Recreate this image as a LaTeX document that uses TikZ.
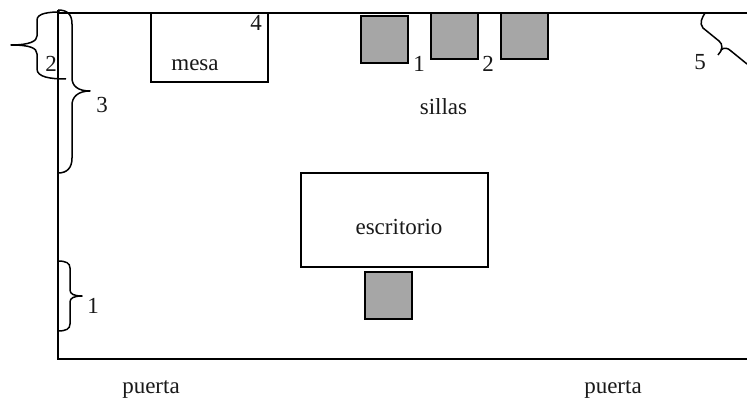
\documentclass[tikz,border=0pt]{standalone}
\usepackage{fontspec}
\setmainfont{Liberation Serif}
\tikzset{
  ln/.style={draw=black,line width=1.5pt},
  chair/.style={draw=black,line width=1.5pt,fill=black!35},
  furn/.style={draw=black,line width=1.5pt,fill=white},
  brace/.style={draw=black,line width=1.5pt,line join=round},
  lbl/.style={inner sep=0pt,font=\fontsize{23}{25}\selectfont,text=black!90}
}
\begin{document}
\begin{tikzpicture}[x=1pt,y=-1pt]
\useasboundingbox[fill=white] (0,0) rectangle (747,398);
\draw[ln] (747,13) -- (58,13);
\draw[ln] (58,10) -- (58,359) -- (747,359);
\draw[furn] (151,13) rectangle (268,82);
\draw[furn] (301,173) rectangle (488,267);
\draw[chair] (361,16) rectangle (408,63);
\draw[chair] (431,13) rectangle (478,59);
\draw[chair] (501,13) rectangle (548,59);
\draw[chair] (365,272) rectangle (412,319);
% brace 2
\draw[brace] (60,12) .. controls (50,12) and (37,13) .. (37,20) -- (37,36)
  .. controls (37,41) and (30,45) .. (11,45)
  .. controls (30,45) and (37,48) .. (37,54) -- (37,69)
  .. controls (37,77) and (50,79) .. (66,79);
% brace 3
\draw[brace] (58,10) .. controls (67,10) and (72,14) .. (72,24) -- (72,78)
  .. controls (72,86) and (78,91) .. (90,91)
  .. controls (78,91) and (72,97) .. (72,105) -- (72,158)
  .. controls (72,168) and (67,173) .. (58,173);
% brace 1
\draw[brace] (58,261) .. controls (66,261) and (70,263) .. (70,268) -- (70,290)
  .. controls (70,294) and (74,296) .. (82,296)
  .. controls (74,296) and (70,298) .. (70,302) -- (70,324)
  .. controls (70,329) and (66,331) .. (58,331);
% brace 5
\draw[brace] (705,13) .. controls (702,18) and (699,23) .. (703,28) -- (719,41)
  .. controls (723,44) and (723,50) .. (718,55);
\draw[brace] (721,50) .. controls (724,47) and (728,48) .. (731,51) -- (747,64);
\node[lbl] (four) at (256,23) {4};
\node[lbl] (mesa) at (195,65) {mesa};
\node[lbl] (c1) at (419,64) {1};
\node[lbl] (c2) at (488,64) {2};
\node[lbl] (five) at (700,62.5) {5};
\node[lbl] (sillas) at (443.5,107) {sillas};
\node[lbl] (esc) at (399,227) {escritorio};
\node[lbl] (three) at (102,105) {3};
\node[lbl] (two) at (51,64) {2};
\node[lbl] (one) at (93,306) {1};
\node[lbl] (p1) at (151,389) {puerta};
\node[lbl] (p2) at (613,389) {puerta};
\end{tikzpicture}
\end{document}
